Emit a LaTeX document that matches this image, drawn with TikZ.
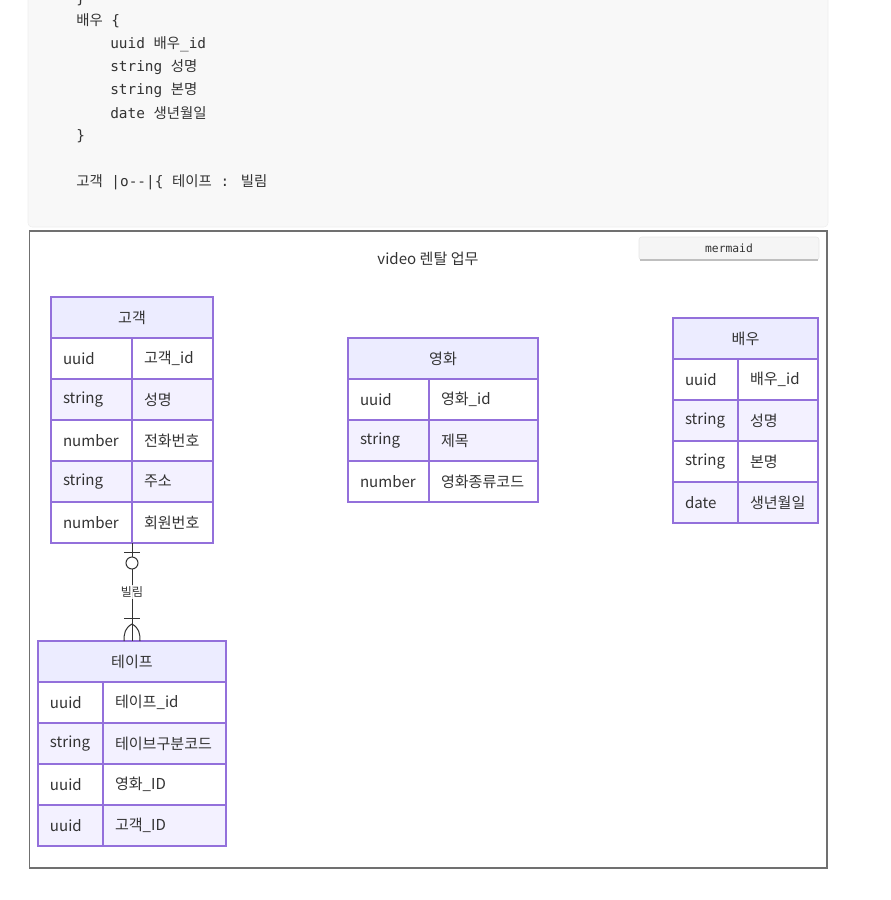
\documentclass[tikz,border=0pt]{standalone}
\usepackage{fontspec}
\setmainfont{Noto Sans CJK KR}
\newfontfamily\kofont{Noto Sans CJK KR}
\newfontfamily\codefont{DejaVu Sans Mono}
\usepackage{xcolor}
\usetikzlibrary{calc,positioning}
\definecolor{erline}{HTML}{9370DB}
\definecolor{erhead}{HTML}{ECECFF}
\definecolor{errow}{HTML}{F3F1FF}
\definecolor{ertext}{HTML}{333333}
\definecolor{codebg}{HTML}{F8F8F8}
\definecolor{framegray}{HTML}{707070}
\newcommand{\ko}[1]{{\kofont #1}}

\begin{document}
\begin{tikzpicture}[x=0.75pt,y=-0.75pt,
  code/.style={anchor=west,inner sep=0pt,text=ertext,font=\codefont\fontsize{10.8}{12}\selectfont},
  erhead/.style={draw=erline,fill=erhead,line width=1.1pt,minimum height=30.75pt,
    anchor=north west,outer sep=0pt,text=ertext,font=\fontsize{11.3}{13}\selectfont},
  ercell/.style={draw=erline,line width=1.1pt,minimum height=30.75pt,inner xsep=9pt,
    inner ysep=0pt,outer sep=0pt,align=left,anchor=north west,text=ertext,
    font=\fontsize{11.3}{13}\selectfont},
  rel/.style={draw=ertext,line width=0.75pt},
  rellbl/.style={fill=white,fill opacity=0.85,text opacity=1,inner sep=1pt,text=ertext,
    font=\fontsize{9}{10}\selectfont}]
\useasboundingbox (0,0) rectangle (890,900);
\clip (0,0) rectangle (890,900);
% code block above the diagram
\fill[codebg,draw=black!7,rounded corners=3pt] (28,-10) rectangle (828,227);
\node[code] (c0) at (76,-1) {\}};
\node[code] (c1) at (76,21) {\ko{배우} \{};
\node[code] (c2) at (110,44) {uuid \ko{배우}\_id};
\node[code] (c3) at (110,67) {string \ko{성명}};
\node[code] (c4) at (110,90) {string \ko{본명}};
\node[code] (c5) at (110,113) {date \ko{생년월일}};
\node[code] (c6) at (76,136) {\}};
\node[code] (c7) at (76,182) {\ko{고객} |o-{}-|\{ \ko{테이프} : \ko{빌림}};
% diagram frame, title and button
\draw[framegray,line width=1pt] (29.5,231) rectangle (827,868);
\node[text=ertext,font=\fontsize{11.3}{13}\selectfont] (title) at (428,259) {video 렌탈 업무};
\draw[fill=black!4,draw=black!10,rounded corners=2pt] (639,237) rectangle (819,260);
\draw[black!25,line width=0.8pt] (640,260) -- (818,260);
\node[text=ertext,font=\codefont\fontsize{8.5}{10}\selectfont] (btn) at (729,248) {mermaid};
% 고객
\node[erhead,minimum width=121.5pt] (gogaek) at (51,297) {고객};
\foreach \ty/\nm [count=\i] in {uuid/고객\_id,string/성명,number/전화번호,string/주소,number/회원번호}{
  \ifodd\i \def\rowfill{white}\else \def\rowfill{errow}\fi
  \node[ercell,fill=\rowfill,text width=42.75pt] (gogaek-t\i) at (51,297+41*\i) {\ty};
  \node[ercell,fill=\rowfill,text width=42.75pt] (gogaek-n\i) at (132,297+41*\i) {\nm};
}
% 영화
\node[erhead,minimum width=142.5pt] (yeonghwa) at (348,338) {영화};
\foreach \ty/\nm [count=\i] in {uuid/영화\_id,string/제목,number/영화종류코드}{
  \ifodd\i \def\rowfill{white}\else \def\rowfill{errow}\fi
  \node[ercell,fill=\rowfill,text width=42.75pt] (yeonghwa-t\i) at (348,338+41*\i) {\ty};
  \node[ercell,fill=\rowfill,text width=63.75pt] (yeonghwa-n\i) at (429,338+41*\i) {\nm};
}
% 배우
\node[erhead,minimum width=108.75pt] (baeu) at (673,318) {배우};
\foreach \ty/\nm [count=\i] in {uuid/배우\_id,string/성명,string/본명,date/생년월일}{
  \ifodd\i \def\rowfill{white}\else \def\rowfill{errow}\fi
  \node[ercell,fill=\rowfill,text width=30.75pt] (baeu-t\i) at (673,318+41*\i) {\ty};
  \node[ercell,fill=\rowfill,text width=42pt] (baeu-n\i) at (738,318+41*\i) {\nm};
}
% 테이프
\node[erhead,minimum width=141pt] (teipeu) at (38,641) {테이프};
\foreach \ty/\nm [count=\i] in {uuid/테이프\_id,string/테이브구분코드,uuid/영화\_ID,uuid/고객\_ID}{
  \ifodd\i \def\rowfill{white}\else \def\rowfill{errow}\fi
  \node[ercell,fill=\rowfill,text width=30.75pt] (teipeu-t\i) at (38,641+41*\i) {\ty};
  \node[ercell,fill=\rowfill,text width=74.25pt] (teipeu-n\i) at (103,641+41*\i) {\nm};
}
% relationship 고객 |o--|{ 테이프
\draw[rel] (gogaek-t5.south east) -- (teipeu.north);
\draw[rel] ($(gogaek-t5.south east)+(-8,9)$) -- ($(gogaek-t5.south east)+(8,9)$);
\draw[rel,fill=white] ($(gogaek-t5.south east)+(0,20)$) circle (4.5pt);
\draw[rel] ($(teipeu.north)+(-8,-23)$) -- ($(teipeu.north)+(8,-23)$);
\draw[rel] ($(teipeu.north)+(0,-17)$) .. controls +(-7,4) and +(0,-8) .. ($(teipeu.north)+(-8,0)$);
\draw[rel] ($(teipeu.north)+(0,-17)$) .. controls +(7,4) and +(0,-8) .. ($(teipeu.north)+(8,0)$);
\node[rellbl] (rel-lbl) at ($(gogaek-t5.south east)!0.5!(teipeu.north)$) {빌림};
\end{tikzpicture}
\end{document}
